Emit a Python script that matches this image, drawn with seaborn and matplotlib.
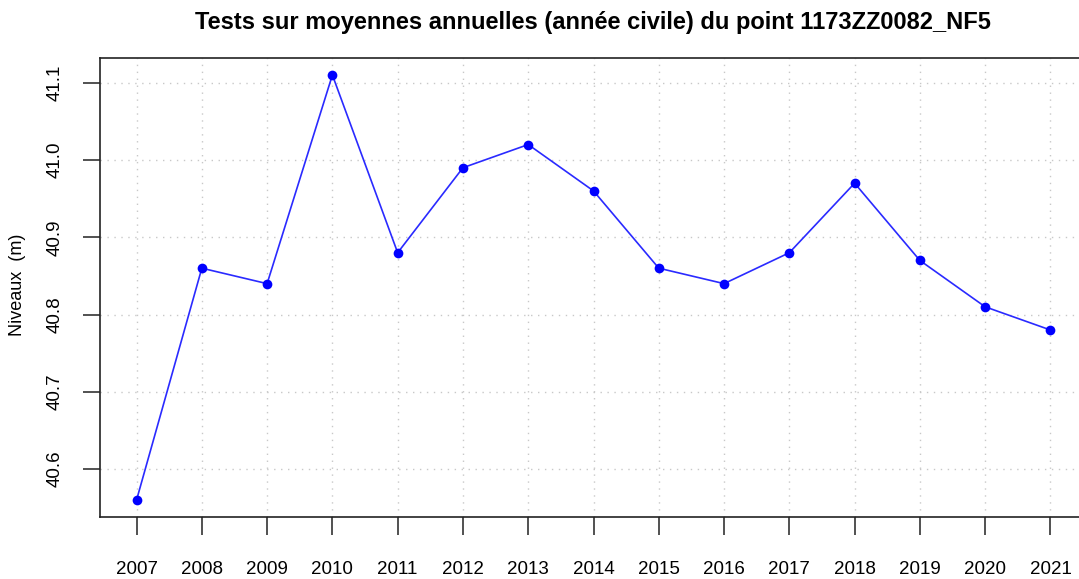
import matplotlib
matplotlib.use("Agg")
import matplotlib.pyplot as plt
import seaborn as sns
import pandas as pd

# Annual means per year
years = [2007, 2008, 2009, 2010, 2011, 2012, 2013, 2014, 2015, 2016, 2017, 2018, 2019, 2020, 2021]
niveaux = [40.56, 40.86, 40.84, 41.11, 40.88, 40.99, 41.02, 40.96, 40.86, 40.84, 40.88, 40.97, 40.87, 40.81, 40.78]
y_ticks = [40.6, 40.7, 40.8, 40.9, 41.0, 41.1]

df = pd.DataFrame({"annee": years, "niveau": niveaux})

sns.set_style("white")
plt.rcParams["font.family"] = ["Liberation Sans", "DejaVu Sans"]
plt.rcParams["text.color"] = "black"
plt.rcParams["xtick.color"] = "#333333"
plt.rcParams["ytick.color"] = "#333333"
plt.rcParams["xtick.labelcolor"] = "black"
plt.rcParams["ytick.labelcolor"] = "black"

fig = plt.figure(figsize=(10.79, 5.79), dpi=100)
# axes runs slightly past the right edge, like the cropped original
ax = fig.add_axes([100 / 1079, 62 / 579, 987 / 1079, 459 / 579])

sns.lineplot(data=df, x="annee", y="niveau", ax=ax, color="#2a2aff", linewidth=1.2,
             marker="o", markersize=7, markeredgewidth=0, markerfacecolor="#0000ff")

# R-style 4% padding on each side
span_x = years[-1] - years[0]
span_y = max(niveaux) - min(niveaux)
ax.set_xlim(years[0] - 0.04 * span_x, years[-1] + 0.04 * span_x)
ax.set_ylim(min(niveaux) - 0.04 * span_y, max(niveaux) + 0.04 * span_y)

ax.set_xticks(years)
ax.set_xticklabels([str(y) for y in years])
ax.set_yticks(y_ticks)
ax.set_yticklabels([f"{v:.1f}" for v in y_ticks], rotation=90, va="center")

ax.grid(True, linestyle=(0, (1, 4)), color="#c8c8c8", linewidth=1)
ax.tick_params(axis="x", bottom=True, length=13, width=1.2, pad=19, labelsize=13.5)
ax.tick_params(axis="y", left=True, length=12.5, width=1.2, pad=14, labelsize=13.5)

for side in ["left", "bottom", "top", "right"]:
    ax.spines[side].set_color("#222222")
    ax.spines[side].set_linewidth(1.2)

ax.set_xlabel("")
ax.set_ylabel("Niveaux  (m)", fontsize=13, color="black")
ax.yaxis.set_label_coords(-74 / 987, (517 - 285) / 459)

fig.text(593 / 1079, 1 - 23 / 579, "Tests sur moyennes annuelles (année civile) du point 1173ZZ0082_NF5",
         ha="center", va="center", fontsize=17, fontweight="bold")

fig.savefig("out.png", dpi=100)
